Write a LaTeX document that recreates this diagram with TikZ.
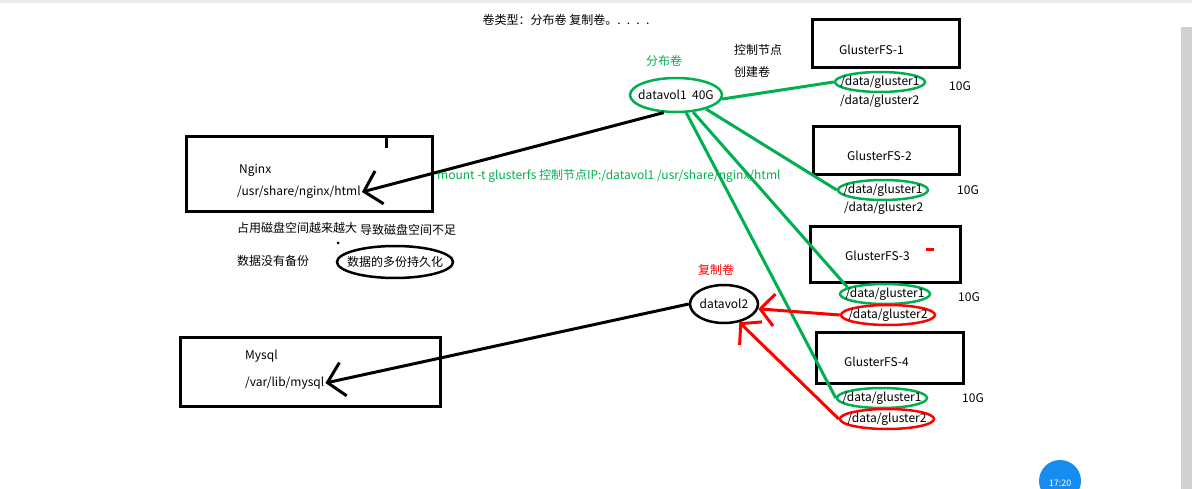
\documentclass[tikz,border=0pt]{standalone}
\usepackage{fontspec}
\setmainfont{Noto Sans CJK SC}
\usepackage{tikz}
\usetikzlibrary{shapes.geometric, arrows.meta, positioning}

\definecolor{gfgreen}{RGB}{0,176,80}
\definecolor{gfred}{RGB}{255,0,0}
\definecolor{clockblue}{RGB}{22,140,240}

\begin{document}
\begin{tikzpicture}[x=1pt, y=-1pt,
        every node/.style={font=\fontsize{12}{14}\selectfont, inner sep=1pt},
        host/.style={rectangle, draw=black, line width=3pt, fill=white},
        txt/.style={anchor=west, text=black},
        vol/.style={ellipse, draw=black, line width=2.5pt, inner xsep=-10pt, inner ysep=0pt},
        brick/.style={ellipse, draw=gfgreen, line width=2.5pt, inner xsep=-14pt, inner ysep=-2pt, minimum width=90, minimum height=20},
        rbrick/.style={brick, draw=gfred, minimum width=94},
        gline/.style={draw=gfgreen, line width=3pt},
        mnt/.style={line width=3pt, -{Straight Barb[length=16pt, width=34pt, line width=3pt]}},
        rep/.style={draw=gfred, line width=3pt, -{Straight Barb[length=14pt, width=32pt, line width=3pt]}}
    ]
        \useasboundingbox (0,0) rectangle (1192,489);
        % screen edges
        \fill[black!8] (0,0) rectangle (1192,3);
        \fill[black!18] (1181,27) rectangle (1192,489);

        \node (title) at (566,20) {卷类型：分布卷 复制卷。. \ . \ . \ .};

        % clients
        \node[host, minimum width=246, minimum height=75] (nginx) at (309,174.5) {};
        \node[txt] (ngname) at (238,170) {Nginx};
        \node[txt] (ngpath) at (236,192) {/usr/share/nginx/html};
        \draw[line width=3pt] (386,137) -- (386,148);

        \node[host, minimum width=260, minimum height=69] (mysql) at (310,371.5) {};
        \node[txt] (myname) at (244,356) {Mysql};
        \node[txt] (mypath) at (244,383) {/var/lib/mysql};

        \node[txt] (note1) at (236,228) {占用磁盘空间越来越大};
        \node[txt] (note2) at (359,230) {导致磁盘空间不足};
        \node[txt] (note3) at (236,261) {数据没有备份};
        \node[vol, minimum width=116, minimum height=32] (persist) at (395,262) {数据的多份持久化};
        \fill (338,243) circle (1.5);

        % gluster nodes
        \node[host, minimum width=147, minimum height=48] (gfs1) at (885.5,44) {};
        \node[txt] (gfs1t) at (838,50) {GlusterFS-1};
        \node[brick] (b1a) at (880,82) {/data/gluster1};
        \node[txt] (b1b) at (839,101) {/data/gluster2};
        \node[txt] (s1) at (948,86) {10G};

        \node[host, minimum width=146, minimum height=48] (gfs2) at (886,151) {};
        \node[txt] (gfs2t) at (846,156) {GlusterFS-2};
        \node[brick] (b2a) at (883,190) {/data/gluster1};
        \node[txt] (b2b) at (843,208) {/data/gluster2};
        \node[txt] (s2) at (956,190) {10G};

        \node[host, minimum width=150, minimum height=56] (gfs3) at (885,255) {};
        \node[txt] (gfs3t) at (844,256) {GlusterFS-3};
        \draw[gfred, line width=3pt] (926,250) -- (934,250);
        \node[brick] (b3a) at (885,294) {/data/gluster1};
        \node[rbrick] (b3b) at (888,315) {/data/gluster2};
        \node[txt] (s3) at (957,297) {10G};

        \node[host, minimum width=147, minimum height=51] (gfs4) at (889.5,357.5) {};
        \node[txt] (gfs4t) at (843,362) {GlusterFS-4};
        \node[brick] (b4a) at (882,398) {/data/gluster1};
        \node[rbrick] (b4b) at (887,419) {/data/gluster2};
        \node[txt] (s4) at (961,398) {10G};

        % volumes
        \node[vol, draw=gfgreen, minimum width=92, minimum height=34] (dv1) at (676,95) {datavol1\ \ 40G};
        \node[text=gfgreen] (dv1t) at (664,61) {分布卷};
        \node[txt] (ctl1) at (733,50) {控制节点};
        \node[txt] (ctl2) at (733,72) {创建卷};

        \node[vol, minimum width=68, minimum height=38] (dv2) at (724,304) {datavol2};
        \node[text=gfred] (dv2t) at (716,270) {复制卷};

        % mounts
        \draw[mnt] (dv1.-125) -- (ngpath.east);
        \draw[mnt] (dv2.west) -- (mypath.east);
        \node[txt, text=gfgreen] (cmd) at (436,176) {mount -t glusterfs 控制节点IP:/datavol1 /usr/share/nginx/html};

        % distributed
        \draw[gline] (dv1.-5) -- (b1a.west);
        \draw[gline] (dv1.-25) -- (b2a.west);
        \draw[gline] (dv1.-45) -- (b3a.170);
        \draw[gline] (dv1.-60) -- (b4a.west);

        % replicated
        \draw[rep] (b3b.west) -- (dv2.-8);
        \draw[rep] (b4b.west) -- (dv2.-50);

        % clock
        \begin{scope}
            \clip (0,0) rectangle (1192,489);
            \fill[clockblue] (1060,481) circle (21);
            \node[text=white, font=\fontsize{9}{10}\selectfont] (clock) at (1060,483) {17:20};
        \end{scope}
    \end{tikzpicture}
\end{document}
